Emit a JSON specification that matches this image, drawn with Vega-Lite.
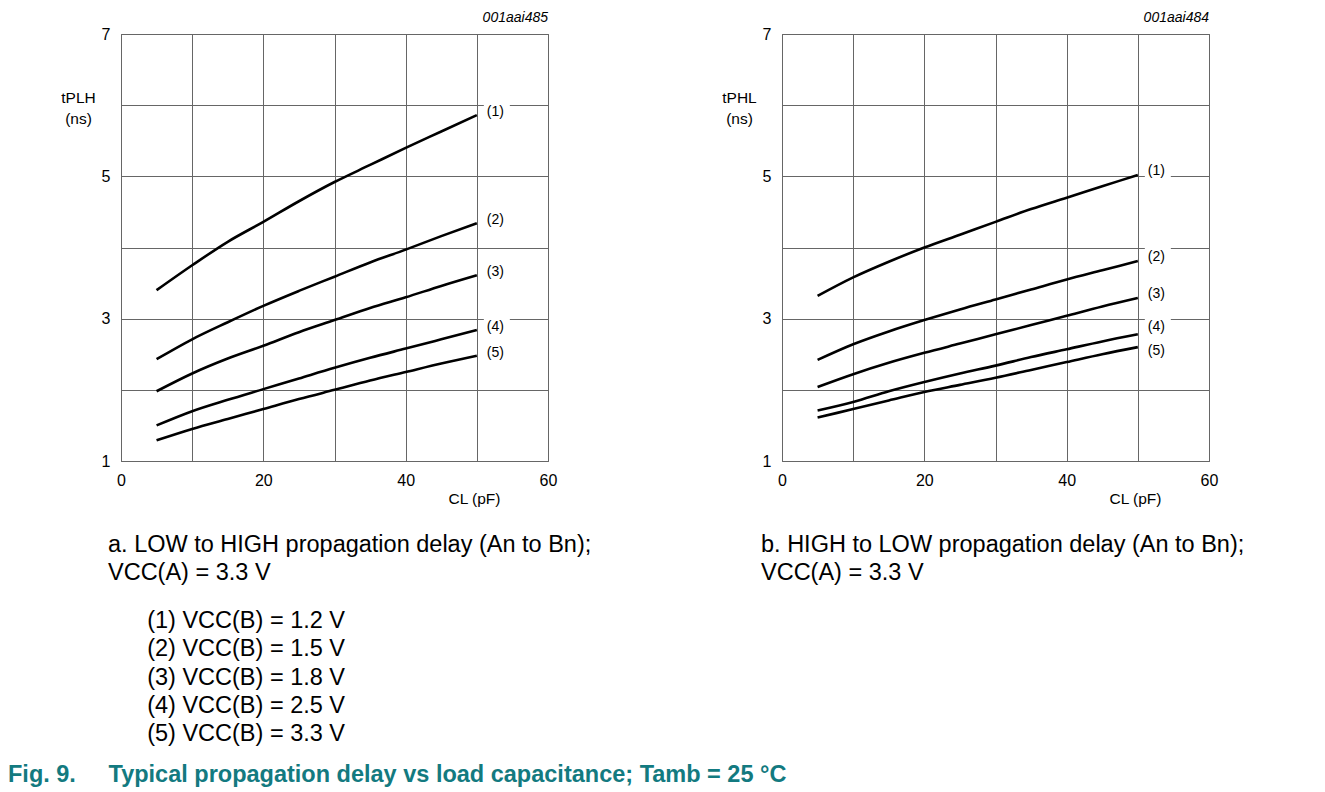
{
  "$schema": "https://vega.github.io/schema/vega-lite/v6.json",
  "background": "white",
  "autosize": {"type": "none"},
  "padding": {"left": 121, "top": 34, "right": 1204, "bottom": 758},
  "config": {
    "font": "Liberation Sans",
    "view": {"stroke": "#555", "strokeWidth": 1},
    "axis": {
      "gridColor": "#666", "gridOpacity": 1, "gridWidth": 1,
      "domain": false, "ticks": false, "labelFlush": false,
      "labelFont": "Liberation Sans", "labelFontSize": 16, "labelColor": "#000",
      "titleFont": "Liberation Sans", "titleFontWeight": "normal", "titleFontSize": 15.5, "titleColor": "#000"
    }
  },
  "datasets": {
    "lh": [
      {"curve": "(1)", "cl": 5, "t": 3.40}, {"curve": "(1)", "cl": 10, "t": 3.75}, {"curve": "(1)", "cl": 15, "t": 4.08}, {"curve": "(1)", "cl": 20, "t": 4.36}, {"curve": "(1)", "cl": 25, "t": 4.65}, {"curve": "(1)", "cl": 30, "t": 4.92}, {"curve": "(1)", "cl": 35, "t": 5.16}, {"curve": "(1)", "cl": 40, "t": 5.40}, {"curve": "(1)", "cl": 45, "t": 5.63}, {"curve": "(1)", "cl": 50, "t": 5.86},
      {"curve": "(2)", "cl": 5, "t": 2.43}, {"curve": "(2)", "cl": 10, "t": 2.71}, {"curve": "(2)", "cl": 15, "t": 2.95}, {"curve": "(2)", "cl": 20, "t": 3.18}, {"curve": "(2)", "cl": 25, "t": 3.39}, {"curve": "(2)", "cl": 30, "t": 3.59}, {"curve": "(2)", "cl": 35, "t": 3.79}, {"curve": "(2)", "cl": 40, "t": 3.97}, {"curve": "(2)", "cl": 45, "t": 4.16}, {"curve": "(2)", "cl": 50, "t": 4.34},
      {"curve": "(3)", "cl": 5, "t": 1.98}, {"curve": "(3)", "cl": 10, "t": 2.23}, {"curve": "(3)", "cl": 15, "t": 2.44}, {"curve": "(3)", "cl": 20, "t": 2.62}, {"curve": "(3)", "cl": 25, "t": 2.81}, {"curve": "(3)", "cl": 30, "t": 2.98}, {"curve": "(3)", "cl": 35, "t": 3.15}, {"curve": "(3)", "cl": 40, "t": 3.30}, {"curve": "(3)", "cl": 45, "t": 3.46}, {"curve": "(3)", "cl": 50, "t": 3.61},
      {"curve": "(4)", "cl": 5, "t": 1.50}, {"curve": "(4)", "cl": 10, "t": 1.70}, {"curve": "(4)", "cl": 15, "t": 1.86}, {"curve": "(4)", "cl": 20, "t": 2.01}, {"curve": "(4)", "cl": 25, "t": 2.16}, {"curve": "(4)", "cl": 30, "t": 2.31}, {"curve": "(4)", "cl": 35, "t": 2.45}, {"curve": "(4)", "cl": 40, "t": 2.58}, {"curve": "(4)", "cl": 45, "t": 2.71}, {"curve": "(4)", "cl": 50, "t": 2.84},
      {"curve": "(5)", "cl": 5, "t": 1.29}, {"curve": "(5)", "cl": 10, "t": 1.45}, {"curve": "(5)", "cl": 15, "t": 1.59}, {"curve": "(5)", "cl": 20, "t": 1.73}, {"curve": "(5)", "cl": 25, "t": 1.87}, {"curve": "(5)", "cl": 30, "t": 2.00}, {"curve": "(5)", "cl": 35, "t": 2.13}, {"curve": "(5)", "cl": 40, "t": 2.25}, {"curve": "(5)", "cl": 45, "t": 2.37}, {"curve": "(5)", "cl": 50, "t": 2.48}
    ],
    "hl": [
      {"curve": "(1)", "cl": 5, "t": 3.32}, {"curve": "(1)", "cl": 10, "t": 3.58}, {"curve": "(1)", "cl": 15, "t": 3.80}, {"curve": "(1)", "cl": 20, "t": 4.00}, {"curve": "(1)", "cl": 25, "t": 4.18}, {"curve": "(1)", "cl": 30, "t": 4.36}, {"curve": "(1)", "cl": 35, "t": 4.54}, {"curve": "(1)", "cl": 40, "t": 4.70}, {"curve": "(1)", "cl": 45, "t": 4.86}, {"curve": "(1)", "cl": 50, "t": 5.02},
      {"curve": "(2)", "cl": 5, "t": 2.42}, {"curve": "(2)", "cl": 10, "t": 2.64}, {"curve": "(2)", "cl": 15, "t": 2.82}, {"curve": "(2)", "cl": 20, "t": 2.98}, {"curve": "(2)", "cl": 25, "t": 3.13}, {"curve": "(2)", "cl": 30, "t": 3.27}, {"curve": "(2)", "cl": 35, "t": 3.41}, {"curve": "(2)", "cl": 40, "t": 3.55}, {"curve": "(2)", "cl": 45, "t": 3.68}, {"curve": "(2)", "cl": 50, "t": 3.81},
      {"curve": "(3)", "cl": 5, "t": 2.04}, {"curve": "(3)", "cl": 10, "t": 2.22}, {"curve": "(3)", "cl": 15, "t": 2.38}, {"curve": "(3)", "cl": 20, "t": 2.52}, {"curve": "(3)", "cl": 25, "t": 2.65}, {"curve": "(3)", "cl": 30, "t": 2.78}, {"curve": "(3)", "cl": 35, "t": 2.91}, {"curve": "(3)", "cl": 40, "t": 3.04}, {"curve": "(3)", "cl": 45, "t": 3.17}, {"curve": "(3)", "cl": 50, "t": 3.29},
      {"curve": "(4)", "cl": 5, "t": 1.71}, {"curve": "(4)", "cl": 10, "t": 1.83}, {"curve": "(4)", "cl": 15, "t": 1.98}, {"curve": "(4)", "cl": 20, "t": 2.11}, {"curve": "(4)", "cl": 25, "t": 2.23}, {"curve": "(4)", "cl": 30, "t": 2.34}, {"curve": "(4)", "cl": 35, "t": 2.46}, {"curve": "(4)", "cl": 40, "t": 2.57}, {"curve": "(4)", "cl": 45, "t": 2.68}, {"curve": "(4)", "cl": 50, "t": 2.78},
      {"curve": "(5)", "cl": 5, "t": 1.61}, {"curve": "(5)", "cl": 10, "t": 1.73}, {"curve": "(5)", "cl": 15, "t": 1.85}, {"curve": "(5)", "cl": 20, "t": 1.97}, {"curve": "(5)", "cl": 25, "t": 2.07}, {"curve": "(5)", "cl": 30, "t": 2.17}, {"curve": "(5)", "cl": 35, "t": 2.28}, {"curve": "(5)", "cl": 40, "t": 2.39}, {"curve": "(5)", "cl": 45, "t": 2.50}, {"curve": "(5)", "cl": 50, "t": 2.60}
    ]
  },
  "title": {
    "text": "Fig. 9.\u00a0\u00a0\u00a0\u00a0\u00a0Typical propagation delay vs load capacitance; Tamb = 25 °C",
    "orient": "bottom", "anchor": "start", "frame": "group", "dx": -113, "offset": 17,
    "color": "#137a80", "fontSize": 23.5, "fontWeight": "bold", "font": "Liberation Sans"
  },
  "bounds": "flush",
  "spacing": 234,
  "hconcat": [
    {
      "width": 427, "height": 427,
      "title": {
        "text": ["a. LOW to HIGH propagation delay (An to Bn);", "VCC(A) = 3.3 V"],
        "subtitle": ["\u200b\u00a0\u00a0\u00a0\u00a0\u00a0\u00a0(1) VCC(B) = 1.2 V", "\u200b\u00a0\u00a0\u00a0\u00a0\u00a0\u00a0(2) VCC(B) = 1.5 V", "\u200b\u00a0\u00a0\u00a0\u00a0\u00a0\u00a0(3) VCC(B) = 1.8 V", "\u200b\u00a0\u00a0\u00a0\u00a0\u00a0\u00a0(4) VCC(B) = 2.5 V", "\u200b\u00a0\u00a0\u00a0\u00a0\u00a0\u00a0(5) VCC(B) = 3.3 V"],
        "orient": "bottom", "anchor": "start", "frame": "group", "dx": -13, "offset": 26,
        "fontSize": 23.5, "fontWeight": "normal", "lineHeight": 28, "color": "#000",
        "subtitleFontSize": 23.5, "subtitleLineHeight": 28.3, "subtitlePadding": 25, "subtitleColor": "#000", "subtitleFont": "Liberation Sans"
      },
      "data": {"name": "lh"},
      "layer": [
        {
          "mark": {"type": "line", "color": "black", "strokeWidth": 2.6, "interpolate": "monotone"},
          "encoding": {
            "x": {"field": "cl", "type": "quantitative", "scale": {"domain": [0, 60], "nice": false},
                  "axis": {"grid": true, "values": [0, 10, 20, 30, 40, 50, 60], "format": "d", "labelExpr": "datum.value % 20 === 0 ? datum.label : ''", "labelPadding": 11, "title": "CL (pF)", "titleX": 353, "titleY": 37, "titleAlign": "center", "titleBaseline": "middle"}},
            "y": {"field": "t", "type": "quantitative", "scale": {"domain": [1, 7], "nice": false, "zero": false},
                  "axis": {"grid": true, "values": [1, 2, 3, 4, 5, 6, 7], "format": "d", "labelExpr": "datum.value % 2 === 1 ? datum.label : ''", "labelPadding": 11, "title": ["tPLH", "(ns)"], "titleAngle": 0, "titleX": -43, "titleY": 63, "titleAlign": "center", "titleBaseline": "middle", "titleLineHeight": 21}},
            "detail": {"field": "curve"}
          }
        },
        {
          "transform": [{"filter": "datum.cl === 50"}],
          "mark": {"type": "point", "shape": "M-1,-0.75H1V0.75H-1Z", "filled": true, "color": "white", "opacity": 1, "size": 676},
          "encoding": {
            "x": {"field": "cl", "type": "quantitative"},
            "y": {"field": "t", "type": "quantitative"},
            "xOffset": {"value": 20},
            "yOffset": {"value": -3}
          }
        },
        {
          "transform": [{"filter": "datum.cl === 50"}],
          "mark": {"type": "text", "align": "left", "baseline": "middle", "dx": 10, "dy": -3, "fontSize": 14, "color": "#000"},
          "encoding": {
            "x": {"field": "cl", "type": "quantitative"},
            "y": {"field": "t", "type": "quantitative"},
            "text": {"field": "curve"}
          }
        },
        {
          "data": {"values": [{"code": "001aai485"}]},
          "mark": {"type": "text", "align": "right", "baseline": "middle", "dy": -16, "fontSize": 14, "fontStyle": "italic", "color": "#000"},
          "encoding": {
            "x": {"datum": 60, "type": "quantitative"},
            "y": {"datum": 7, "type": "quantitative"},
            "text": {"field": "code"}
          }
        }
      ]
    },
    {
      "width": 427, "height": 427,
      "title": {
        "text": ["b. HIGH to LOW propagation delay (An to Bn);", "VCC(A) = 3.3 V"],
        "orient": "bottom", "anchor": "start", "frame": "group", "dx": -21, "offset": 26,
        "fontSize": 23.5, "fontWeight": "normal", "lineHeight": 28, "color": "#000"
      },
      "data": {"name": "hl"},
      "layer": [
        {
          "mark": {"type": "line", "color": "black", "strokeWidth": 2.6, "interpolate": "monotone"},
          "encoding": {
            "x": {"field": "cl", "type": "quantitative", "scale": {"domain": [0, 60], "nice": false},
                  "axis": {"grid": true, "values": [0, 10, 20, 30, 40, 50, 60], "format": "d", "labelExpr": "datum.value % 20 === 0 ? datum.label : ''", "labelPadding": 11, "title": "CL (pF)", "titleX": 353, "titleY": 37, "titleAlign": "center", "titleBaseline": "middle"}},
            "y": {"field": "t", "type": "quantitative", "scale": {"domain": [1, 7], "nice": false, "zero": false},
                  "axis": {"grid": true, "values": [1, 2, 3, 4, 5, 6, 7], "format": "d", "labelExpr": "datum.value % 2 === 1 ? datum.label : ''", "labelPadding": 11, "title": ["tPHL", "(ns)"], "titleAngle": 0, "titleX": -43, "titleY": 63, "titleAlign": "center", "titleBaseline": "middle", "titleLineHeight": 21}},
            "detail": {"field": "curve"}
          }
        },
        {
          "transform": [{"filter": "datum.cl === 50 && datum.curve !== '(4)' && datum.curve !== '(5)'"}],
          "mark": {"type": "point", "shape": "M-1,-0.75H1V0.75H-1Z", "filled": true, "color": "white", "opacity": 1, "size": 676},
          "encoding": {
            "x": {"field": "cl", "type": "quantitative"},
            "y": {"field": "t", "type": "quantitative"},
            "xOffset": {"value": 20},
            "yOffset": {"value": -4}
          }
        },
        {
          "transform": [{"filter": "datum.cl === 50 && datum.curve === '(4)'"}],
          "mark": {"type": "point", "shape": "M-1,-0.75H1V0.75H-1Z", "filled": true, "color": "white", "opacity": 1, "size": 676},
          "encoding": {
            "x": {"field": "cl", "type": "quantitative"},
            "y": {"field": "t", "type": "quantitative"},
            "xOffset": {"value": 20},
            "yOffset": {"value": -7}
          }
        },
        {
          "transform": [{"filter": "datum.cl === 50 && datum.curve !== '(4)' && datum.curve !== '(5)'"}],
          "mark": {"type": "text", "align": "left", "baseline": "middle", "dx": 10, "dy": -4, "fontSize": 14, "color": "#000"},
          "encoding": {
            "x": {"field": "cl", "type": "quantitative"},
            "y": {"field": "t", "type": "quantitative"},
            "text": {"field": "curve"}
          }
        },
        {
          "transform": [{"filter": "datum.cl === 50 && datum.curve === '(4)'"}],
          "mark": {"type": "text", "align": "left", "baseline": "middle", "dx": 10, "dy": -7, "fontSize": 14, "color": "#000"},
          "encoding": {
            "x": {"field": "cl", "type": "quantitative"},
            "y": {"field": "t", "type": "quantitative"},
            "text": {"field": "curve"}
          }
        },
        {
          "transform": [{"filter": "datum.cl === 50 && datum.curve === '(5)'"}],
          "mark": {"type": "text", "align": "left", "baseline": "middle", "dx": 10, "dy": 4, "fontSize": 14, "color": "#000"},
          "encoding": {
            "x": {"field": "cl", "type": "quantitative"},
            "y": {"field": "t", "type": "quantitative"},
            "text": {"field": "curve"}
          }
        },
        {
          "data": {"values": [{"code": "001aai484"}]},
          "mark": {"type": "text", "align": "right", "baseline": "middle", "dy": -16, "fontSize": 14, "fontStyle": "italic", "color": "#000"},
          "encoding": {
            "x": {"datum": 60, "type": "quantitative"},
            "y": {"datum": 7, "type": "quantitative"},
            "text": {"field": "code"}
          }
        }
      ]
    }
  ]
}
